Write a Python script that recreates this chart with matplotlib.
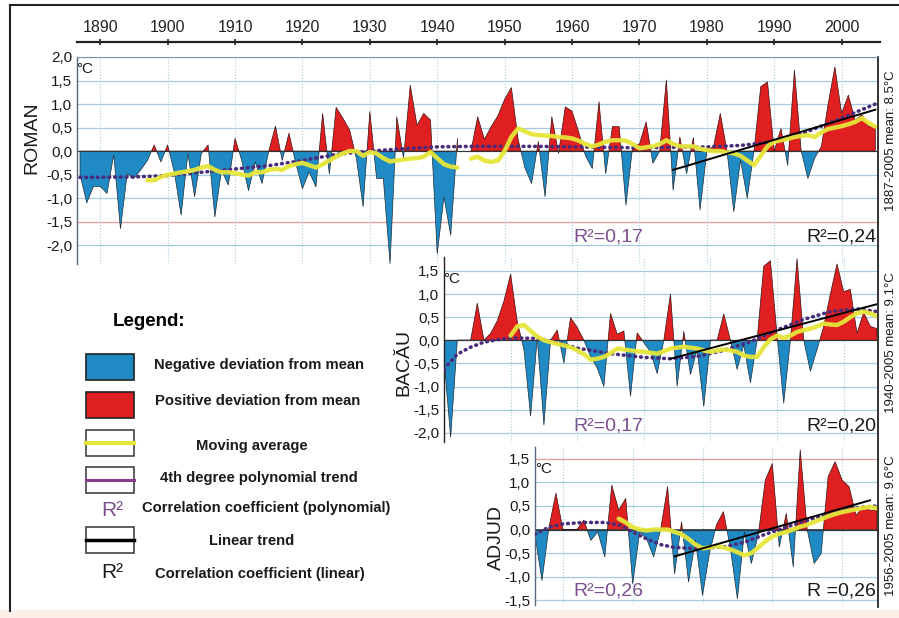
import numpy as np
import matplotlib

matplotlib.use("Agg")
import matplotlib.pyplot as plt  # noqa: E402
from matplotlib.patches import Rectangle  # noqa: E402

plt.rcParams["font.family"] = ["Liberation Sans", "DejaVu Sans"]

W, H = 899, 618
BLUE = "#1f8ac4"
RED = "#e02020"
YELLOW = "#e6e63a"
PURPLE = "#4a2a7a"
GRID = "#a6cbe0"
R2_PURPLE = "#7b4f8e"

# ---------------- data: temperature deviation from mean (deg C) ----------------
roman_years = np.arange(1887, 2006)
roman_dev = [
    -0.5, -1.1, -0.75, -0.75, -0.9, -0.08, -1.65, -0.48, -0.58, -0.4,      # 1887-1896
    -0.2, 0.13, -0.23, 0.13, -0.45, -1.36, -0.05, -0.97, -0.05, 0.13,      # 1897-1906
    -1.4, -0.4, -0.72, 0.27, -0.2, -0.84, -0.23, -0.69, 0.0, 0.53,         # 1907-1916
    -0.2, 0.38, -0.25, -0.8, -0.44, -0.76, 0.8, -0.49, 0.93, 0.7,          # 1917-1926
    0.45, -0.15, -1.18, 0.84, -0.58, -0.58, -2.39, 0.73, -0.15, 1.4,       # 1927-1936
    0.55, 0.8, 0.66, -2.18, -0.97, -1.79, 0.27, np.nan, 0.0, 0.73,         # 1937-1946
    0.25, 0.52, 0.75, 1.1, 1.35, 0.25, -0.35, -0.69, 0.2, -0.97,           # 1947-1956
    0.73, -0.05, 0.94, 0.85, 0.4, -0.1, -0.37, 1.05, -0.48, 0.52,          # 1957-1966
    0.52, -1.15, 0.1, 0.15, 0.62, -0.26, 0.0, 1.51, -0.83, 0.3,            # 1967-1976
    -0.48, 0.29, -1.25, 0.0, 0.1, 0.8, 0.0, -1.29, -0.19, -1.0,            # 1977-1986
    0.0, 1.37, 1.47, 0.0, 0.48, -0.3, 1.72, 0.0, -0.58, -0.15,             # 1987-1996
    0.1, 1.0, 1.79, 0.8, 1.19, 0.66, 0.77, 0.52, 0.52,                     # 1997-2005
]
roman_ma_years = np.arange(1897, 2006)
roman_ma = [
    -0.62, -0.62, -0.55, -0.5, -0.48, -0.45, -0.43, -0.4, -0.35, -0.32,
    -0.4, -0.45, -0.45, -0.47, -0.5, -0.52, -0.45, -0.45, -0.4, -0.38,
    -0.4, -0.32, -0.28, -0.25, -0.3, -0.35, -0.28, -0.2, -0.12, -0.05,
    0.0, 0.0, -0.1, -0.02, -0.05, -0.15, -0.22, -0.2, -0.18, -0.16,
    -0.15, -0.12, -0.02, -0.15, -0.28, -0.33, -0.35, np.nan, -0.16, -0.12,
    -0.2, -0.23, -0.2, 0.0, 0.3, 0.48, 0.42, 0.36, 0.34, 0.33,
    0.32, 0.3, 0.29, 0.27, 0.22, 0.15, 0.1, 0.14, 0.2, 0.23,
    0.23, 0.22, 0.15, 0.06, 0.08, 0.1, 0.15, 0.23, 0.15, 0.1,
    0.1, 0.1, 0.05, 0.02, 0.0, 0.0, -0.03, -0.05, -0.1, -0.2,
    -0.3, -0.1, 0.1, 0.2, 0.23, 0.26, 0.3, 0.32, 0.34, 0.3,
    0.4, 0.47, 0.5, 0.53, 0.57, 0.62, 0.7, 0.6, 0.52,
]
roman_poly_years = [1887, 1895, 1900, 1905, 1910, 1915, 1920, 1925, 1930, 1935, 1940, 1945,
                    1950, 1955, 1960, 1965, 1970, 1975, 1980, 1985, 1990, 1995, 2000, 2005]
roman_poly = [-0.56, -0.55, -0.52, -0.45, -0.38, -0.31, -0.2, -0.07, 0.0, 0.05, 0.09, 0.1,
              0.1, 0.1, 0.09, 0.08, 0.07, 0.08, 0.09, 0.12, 0.2, 0.42, 0.7, 1.0]
roman_lin_years = [1975, 2005]
roman_lin = [-0.4, 0.88]

bacau_years = np.arange(1940, 2006)
bacau_dev = [
    -0.4, -2.1, 0.0, 0.0, 0.0, 0.8, 0.0, 0.15, 0.42, 0.85,
    1.43, 0.4, -0.2, -1.64, 0.05, -1.83, 0.0, 0.22, -0.49, 0.49,
    0.28, 0.0, -0.35, -0.6, -1.0, 0.58, 0.13, 0.2, -1.21, 0.16,
    -0.05, -0.25, -0.72, 0.0, 1.0, -0.99, 0.19, -0.74, -0.2, -1.43,
    0.0, 0.0, 0.57, 0.0, -0.63, -0.1, -0.92, 0.0, 1.6, 1.72,
    0.1, -1.36, 0.0, 1.76, 0.0, -0.67, -0.2, 0.3, 1.0, 1.65,
    1.05, 1.1, 0.15, 0.6, 0.3, 0.25,
]
bacau_ma_years = np.arange(1950, 2006)
bacau_ma = [
    0.1, 0.3, 0.33, 0.2, 0.08, 0.0, -0.04, -0.08, -0.11, -0.15,
    -0.22, -0.3, -0.42, -0.4, -0.36, -0.28, -0.18, -0.2, -0.22, -0.24,
    -0.25, -0.27, -0.29, -0.24, -0.18, -0.16, -0.14, -0.16, -0.18, -0.22,
    -0.25, -0.22, -0.2, -0.22, -0.25, -0.33, -0.36, -0.36, -0.15, 0.02,
    0.1, 0.05, 0.1, 0.18, 0.22, 0.25, 0.3, 0.36, 0.34, 0.33,
    0.4, 0.5, 0.58, 0.62, 0.58, 0.52,
]
bacau_poly_years = [1940, 1942, 1944, 1946, 1948, 1950, 1954, 1957, 1960, 1965,
                    1970, 1974, 1978, 1982, 1986, 1990, 1994, 1998, 2002, 2005]
bacau_poly = [-0.62, -0.3, -0.15, -0.04, 0.01, 0.05, 0.04, -0.04, -0.17, -0.29,
              -0.37, -0.4, -0.35, -0.22, -0.03, 0.22, 0.45, 0.62, 0.68, 0.62]
bacau_lin_years = [1974, 2005]
bacau_lin = [-0.4, 0.78]

adjud_years = np.arange(1956, 2006)
adjud_dev = [
    -0.12, -1.08, 0.05, 0.77, 0.0, 0.0, 0.0, 0.2, -0.23, -0.05,
    -0.58, 0.94, 0.41, 0.66, -1.15, -0.05, -0.2, -0.58, 0.0, 0.91,
    -0.94, 0.16, -1.11, -0.22, -1.4, -0.5, 0.1, 0.38, -0.4, -1.47,
    -0.05, -0.72, -0.1, 1.05, 1.4, -0.37, 0.34, -0.79, 1.69, 0.0,
    -0.72, -0.51, 1.12, 1.44, 1.05, 0.91, 0.3, 0.48, 0.41, 0.41,
]
adjud_ma_years = np.arange(1968, 2006)
adjud_ma = [
    0.23, 0.15, 0.05, 0.0, -0.02, 0.0, 0.0, 0.0, -0.05, -0.1,
    -0.2, -0.32, -0.4, -0.38, -0.35, -0.38, -0.42, -0.48, -0.55, -0.5,
    -0.38, -0.25, -0.15, -0.09, -0.05, 0.0, 0.06, 0.1, 0.16, 0.22,
    0.28, 0.33, 0.37, 0.4, 0.43, 0.46, 0.48, 0.45,
]
adjud_poly_years = [1956, 1958, 1960, 1963, 1966, 1968, 1970, 1972, 1974, 1976,
                    1979, 1983, 1986, 1989, 1993, 1997, 2001, 2005]
adjud_poly = [-0.1, 0.05, 0.12, 0.15, 0.15, 0.1, -0.05, -0.2, -0.32, -0.38,
              -0.4, -0.37, -0.27, -0.1, 0.1, 0.28, 0.45, 0.5]
adjud_lin_years = [1976, 2004]
adjud_lin = [-0.57, 0.62]

decade_labels = list(range(1890, 2010, 10))

fig = plt.figure(figsize=(W / 100, H / 100), dpi=100)


def px_axes(x0, y0, x1, y1):
    return fig.add_axes([x0 / W, 1 - y1 / H, (x1 - x0) / W, (y1 - y0) / H])


def comma(v):
    return f"{v:.1f}".replace(".", ",")


ov = px_axes(0, 0, W, H)
ov.set_xlim(0, W)
ov.set_ylim(H, 0)
ov.axis("off")


def draw_panel(ax, years, dev, ma_years, ma, poly_years, poly, lin_years, lin,
               xlim, ylim, yticks, pink=()):
    dev = np.asarray(dev, float)
    ax.set_facecolor("none")
    ax.set_xlim(*xlim)
    ax.set_ylim(*ylim)
    for v in yticks:
        ax.axhline(v, color="#e79a9a" if v in pink else GRID, lw=0.9, zorder=0)
    for d in decade_labels:
        if xlim[0] < d < xlim[1]:
            ax.axvline(d, color=GRID, lw=0.8, ls=":", zorder=0)
    ax.fill_between(years, dev, 0, where=dev <= 0, interpolate=True,
                    facecolor=BLUE, edgecolor="#1d2b35", lw=0.5, zorder=2)
    ax.fill_between(years, dev, 0, where=dev >= 0, interpolate=True,
                    facecolor=RED, edgecolor="#3a1010", lw=0.5, zorder=2)
    ax.axhline(0, color="#333333", lw=0.8, zorder=2.5)
    ax.plot(poly_years, poly, color=PURPLE, lw=2.6, ls=(0, (0.2, 1.4)),
            dash_capstyle="round", zorder=3)
    ax.plot(ma_years, ma, color=YELLOW, lw=3.2, alpha=0.95, zorder=4,
            solid_capstyle="round")
    ax.plot(lin_years, lin, color="black", lw=1.4, zorder=5)
    ax.set_xticks([])
    ax.set_yticks(yticks)
    ax.set_yticklabels([comma(v) for v in yticks])
    ax.tick_params(axis="y", length=0, pad=3.5, labelsize=11, labelcolor="#1a1a1a")
    for s in ["bottom", "right", "top"]:
        ax.spines[s].set_visible(False)
    ax.spines["left"].set_color("#56687a")
    ax.spines["left"].set_linewidth(1.0)


# ROMAN
ax_r = px_axes(77, 57, 877, 264)
draw_panel(ax_r, roman_years, roman_dev, roman_ma_years, roman_ma,
           roman_poly_years, roman_poly, roman_lin_years, roman_lin,
           (1886.55, 2005.25), (-2.4, 2.0), np.arange(2.0, -2.01, -0.5), pink=(-1.5,))
ax_r.spines["top"].set_visible(True)
ax_r.spines["top"].set_color("#7f95a8")

# BACAU
ax_b = px_axes(444, 257, 877, 442)
draw_panel(ax_b, bacau_years, bacau_dev, bacau_ma_years, bacau_ma,
           bacau_poly_years, bacau_poly, bacau_lin_years, bacau_lin,
           (1940, 2005), (-2.2, 1.8), np.arange(1.5, -2.01, -0.5))
ax_b.spines["left"].set_color("#222222")

# ADJUD
ax_a = px_axes(535, 447, 877, 605)
draw_panel(ax_a, adjud_years, adjud_dev, adjud_ma_years, adjud_ma,
           adjud_poly_years, adjud_poly, adjud_lin_years, adjud_lin,
           (1956, 2005), (-1.6, 1.75), np.arange(1.5, -1.51, -0.5), pink=(1.5,))

# top year scale
ax_t = px_axes(77, 42, 880, 43)
ax_t.set_facecolor("none")
ax_t.set_xlim(1886.55, 2005.7)
ax_t.set_yticks([])
ax_t.xaxis.tick_top()
ax_t.set_xticks(decade_labels)
ax_t.set_xticklabels([str(d) for d in decade_labels])
ax_t.tick_params(axis="x", direction="inout", length=5, width=1.2, pad=2.5,
                 labelsize=11.5, colors="#222222")
for s in ["bottom", "left", "right"]:
    ax_t.spines[s].set_visible(False)
ax_t.spines["top"].set_linewidth(1.6)
ax_t.spines["top"].set_color("#222222")

# frame and long right border
ov.add_patch(Rectangle((0, 610), W, 8, facecolor="#fcefe9", edgecolor="none"))
ov.plot([10, 10], [5, 611], color="#222222", lw=1.5)
ov.plot([10, W], [5, 5], color="#222222", lw=1.5)
ov.plot([877.5, 877.5], [57, 607], color="#111111", lw=1.2)

# panel names, units, period labels
for name, x, y in [("ROMAN", 32, 138), ("BACĂU", 404, 362), ("ADJUD", 496, 537)]:
    ov.text(x, y, name, rotation=90, ha="center", va="center", fontsize=14, color="#1a1a1a")
for x, y in [(85, 69), (452, 279), (544, 469)]:
    ov.text(x, y, "°C", ha="center", va="center", fontsize=11, color="#1a1a1a")
for label, y in [("1887-2005 mean: 8.5°C", 141), ("1940-2005 mean: 9.1°C", 343),
                 ("1956-2005 mean: 9.6°C", 526)]:
    ov.text(891, y, label, rotation=90, ha="center", va="center", fontsize=9.5, color="#1a1a1a")

# correlation coefficients
for y, r_poly, r_lin in [(237, "R²=0,17", "R²=0,24"), (426, "R²=0,17", "R²=0,20"),
                         (591, "R²=0,26", "R =0,26")]:
    ov.text(608, y, r_poly, ha="center", va="center", fontsize=14, color=R2_PURPLE)
    ov.text(876, y, r_lin, ha="right", va="center", fontsize=14, color="#1a1a1a")

# legend
ov.text(149, 322, "Legend:", ha="center", va="center", fontsize=13.5, fontweight="bold")
ov.add_patch(Rectangle((86, 354), 48, 26, facecolor=BLUE, edgecolor="#222222", lw=1.2))
ov.add_patch(Rectangle((86, 392), 48, 26, facecolor=RED, edgecolor="#222222", lw=1.2))
for y0, col, lw in [(430, YELLOW, 3), (467, "#8a3c8c", 2.2), (527, "black", 2.5)]:
    ov.add_patch(Rectangle((86, y0), 48, 26, facecolor="white", edgecolor="#333333", lw=1.1))
    ov.plot([86, 134], [y0 + 13, y0 + 13], color=col, lw=lw)
ov.text(112, 510, "R²", ha="center", va="center", fontsize=15, color=R2_PURPLE)
ov.text(112, 572, "R²", ha="center", va="center", fontsize=15, color="#1a1a1a")
legend_rows = [
    ("Negative deviation from mean", 259, 365),
    ("Positive deviation from mean", 258, 401),
    ("Moving average", 252, 446),
    ("4th degree polynomial trend", 259, 478),
    ("Correlation coefficient (polynomial)", 266, 508),
    ("Linear trend", 252, 541),
    ("Correlation coefficient (linear)", 260, 574),
]
for text, x, y in legend_rows:
    ov.text(x, y, text, ha="center", va="center", fontsize=10.6, fontweight="bold", color="#1a1a1a")

fig.savefig("out.png", dpi=100)
plt.close(fig)
